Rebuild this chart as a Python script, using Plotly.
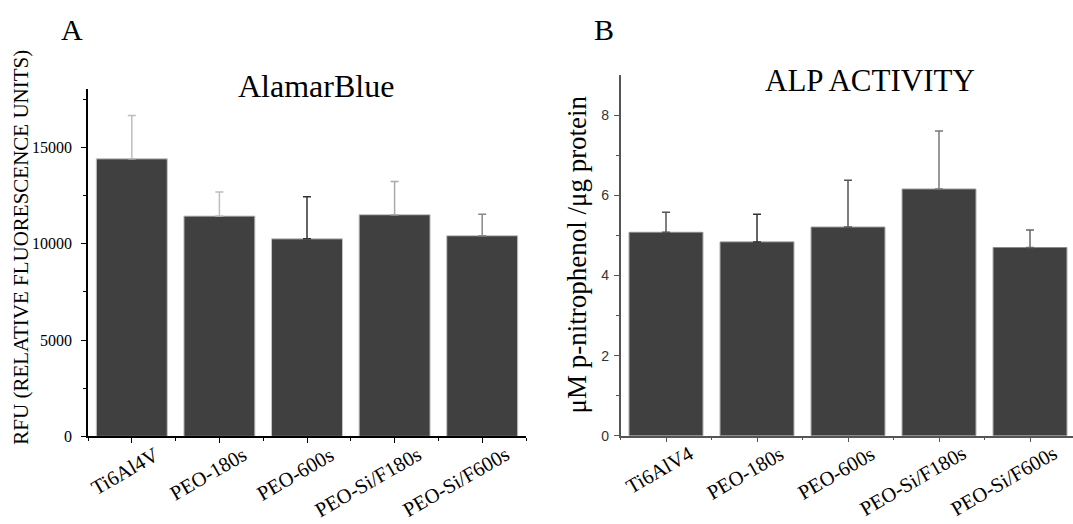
import plotly.graph_objects as go

# Sample groups
groups_a = ["Ti6Al4V", "PEO-180s", "PEO-600s", "PEO-Si/F180s", "PEO-Si/F600s"]
groups_b = ["Ti6AlV4", "PEO-180s", "PEO-600s", "PEO-Si/F180s", "PEO-Si/F600s"]

# AlamarBlue (RFU): means and standard deviations
rfu_mean = [14400, 11430, 10250, 11500, 10410]
rfu_sd = [2250, 1250, 2180, 1730, 1120]
rfu_ticks = [0, 5000, 10000, 15000]

# ALP activity (uM p-nitrophenol / ug protein): means and standard deviations
alp_mean = [5.08, 4.84, 5.21, 6.16, 4.70]
alp_sd = [0.50, 0.69, 1.17, 1.45, 0.44]
alp_ticks = [0, 2, 4, 6, 8]

# Styling
W, H = 1073, 524
BAR = "#404040"
SERIF = "Liberation Serif"
SANS = "Liberation Sans"
err_colors_a = ["#bdbdbd", "#bdbdbd", "#333333", "#aaaaaa", "#888888"]
err_colors_b = ["#555555", "#333333", "#555555", "#777777", "#666666"]


def px_x(v):
    return v / W


def px_y(v):
    return 1 - v / H


fig = go.Figure()

positions = list(range(1, len(groups_a) + 1))

for i, pos in enumerate(positions):
    fig.add_trace(go.Bar(
        x=[pos], y=[rfu_mean[i]], width=0.81,
        marker=dict(color=BAR, line=dict(color="#c4c4c4", width=1)),
        error_y=dict(type="data", array=[rfu_sd[i]], symmetric=False,
                     arrayminus=[0], color=err_colors_a[i], thickness=1.5, width=4),
        xaxis="x", yaxis="y", hoverinfo="skip",
    ))
    fig.add_trace(go.Bar(
        x=[pos], y=[alp_mean[i]], width=0.81,
        marker=dict(color=BAR, line=dict(color="#8a8a8a", width=1)),
        error_y=dict(type="data", array=[alp_sd[i]], symmetric=False,
                     arrayminus=[0], color=err_colors_b[i], thickness=1.5, width=4),
        xaxis="x2", yaxis="y2", hoverinfo="skip",
    ))

common_x = dict(
    tickvals=positions, showticklabels=False, ticks="outside", ticklen=5,
    tickwidth=1.3, showgrid=False, zeroline=False, showline=True, linewidth=1.5,
    minor=dict(tickvals=[p - 0.5 for p in positions] + [positions[-1] + 0.5],
               ticks="outside", ticklen=3, tickwidth=1.2),
)

fig.update_layout(
    width=W, height=H,
    margin=dict(l=0, r=0, t=0, b=0),
    paper_bgcolor="white", plot_bgcolor="white",
    showlegend=False, barmode="overlay",
    xaxis=dict(domain=[px_x(88), px_x(526)], range=[0.5, 5.5], anchor="y",
               linecolor="black", tickcolor="black", **common_x),
    yaxis=dict(domain=[px_y(444), px_y(91)], range=[0, 18000], anchor="x",
               tickvals=rfu_ticks, ticktext=[str(t) for t in rfu_ticks],
               ticks="outside", ticklen=5,
               tickwidth=1.3, tickcolor="black", showline=True, linecolor="black",
               linewidth=1.5, showgrid=False, zeroline=False,
               tickfont=dict(family=SERIF, size=16, color="black"),
               ticklabelstandoff=6,
               minor=dict(tickvals=[2500, 7500, 12500, 17500], ticks="outside",
                          ticklen=3, tickwidth=1.2, tickcolor="black")),
    xaxis2=dict(domain=[px_x(620.5), 1.0], range=[0.5, 0.5 + (W - 620.5) / 91],
                anchor="y2", linecolor="#555555", tickcolor="#555555", **common_x),
    yaxis2=dict(domain=[px_y(443.3), px_y(76.7)], range=[0, 9], anchor="x2",
                tickvals=alp_ticks, ticktext=[str(t) for t in alp_ticks],
                ticks="outside", ticklen=5,
                tickwidth=1.3, tickcolor="#555555", showline=True,
                linecolor="#555555", linewidth=1.5, showgrid=False, zeroline=False,
                tickfont=dict(family=SANS, size=14, color="#333333"),
                ticklabelstandoff=2,
                minor=dict(tickvals=[1, 3, 5, 7], ticks="outside", ticklen=3,
                           tickwidth=1.2, tickcolor="#555555")),
)

annotations = []

# Panel letters and titles
for txt, cx, cy, size in [("A", 72, 30, 30), ("B", 604, 30, 30),
                          ("AlamarBlue", 316, 88, 32), ("ALP ACTIVITY", 870, 82, 31)]:
    annotations.append(dict(text=txt, x=px_x(cx), y=px_y(cy), xref="paper", yref="paper",
                            xanchor="center", yanchor="middle", showarrow=False,
                            font=dict(family=SERIF, size=size, color="black")))

# Axis titles
annotations.append(dict(text="RFU (RELATIVE FLUORESCENCE UNITS)", textangle=-90,
                        x=px_x(21), y=px_y(252), xref="paper", yref="paper",
                        xanchor="center", yanchor="middle", showarrow=False,
                        font=dict(family=SERIF, size=21, color="black")))
annotations.append(dict(text="\u03bcM p-nitrophenol /\u03bcg protein", textangle=-90,
                        x=px_x(577), y=px_y(259), xref="paper", yref="paper",
                        xanchor="center", yanchor="middle", showarrow=False,
                        font=dict(family=SERIF, size=27, color="black")))

# Rotated category labels
for xa, ya, labels, shift in [("x", "y", groups_a, 33), ("x2", "y2", groups_b, 33)]:
    for pos, lab in zip(positions, labels):
        annotations.append(dict(text=lab, textangle=-30, x=pos, y=0, xref=xa, yref=ya,
                                xanchor="right", yanchor="top", xshift=shift, yshift=-4,
                                showarrow=False,
                                font=dict(family=SERIF, size=20.5, color="black")))

fig.update_layout(annotations=annotations)

fig.write_html("out.html")
